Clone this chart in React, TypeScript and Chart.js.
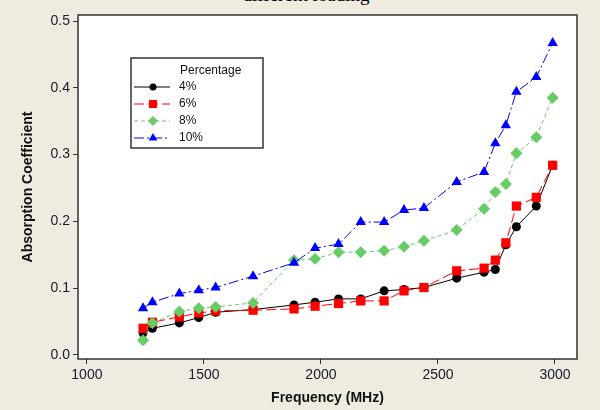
import React, { useEffect, useRef } from "react";
import { Chart, registerables } from "chart.js";

Chart.register(...registerables);

const freqMHz = [1240, 1280, 1395, 1478, 1550, 1710, 1885, 1975, 2075, 2170, 2270, 2355, 2440, 2580, 2697, 2745, 2790, 2835, 2920, 2990];
const pct4 = [0.033, 0.040, 0.048, 0.056, 0.064, 0.068, 0.075, 0.079, 0.084, 0.084, 0.096, 0.098, 0.101, 0.115, 0.124, 0.128, 0.165, 0.192, 0.223, 0.284];
const pct6 = [0.040, 0.049, 0.057, 0.063, 0.066, 0.067, 0.069, 0.073, 0.077, 0.081, 0.081, 0.096, 0.101, 0.126, 0.130, 0.142, 0.168, 0.223, 0.236, 0.284];
const pct8 = [0.022, 0.048, 0.065, 0.070, 0.072, 0.078, 0.142, 0.144, 0.154, 0.154, 0.156, 0.162, 0.171, 0.187, 0.219, 0.244, 0.256, 0.302, 0.326, 0.385];
const pct10 = [0.070, 0.079, 0.092, 0.097, 0.101, 0.118, 0.138, 0.160, 0.166, 0.199, 0.199, 0.217, 0.220, 0.259, 0.274, 0.317, 0.344, 0.394, 0.416, 0.467];

const seriesLabels = ["4%", "6%", "8%", "10%"];
const legendTitle = "Percentage";
const xTickValues = [1000, 1500, 2000, 2500, 3000];
const xTickLabels = ["1000", "1500", "2000", "2500", "3000"];
const yTickValues = [0, 0.1, 0.2, 0.3, 0.4, 0.5];
const yTickLabels = ["0.0", "0.1", "0.2", "0.3", "0.4", "0.5"];
const xTitle = "Frequency (MHz)";
const yTitle = "Absorption Coefficient";
const topTitle = "different loading";

const FONT = "'Liberation Sans', Arial, sans-serif";

function drawMarker(ctx: CanvasRenderingContext2D, style: string, x: number, y: number, r: number, color: string) {
  ctx.save();
  ctx.fillStyle = color;
  ctx.beginPath();
  if (style === "circle") {
    ctx.arc(x, y, r, 0, Math.PI * 2);
  } else if (style === "rect") {
    ctx.rect(x - r, y - r, 2 * r, 2 * r);
  } else if (style === "rectRot") {
    ctx.moveTo(x, y - r);
    ctx.lineTo(x + r, y);
    ctx.lineTo(x, y + r);
    ctx.lineTo(x - r, y);
    ctx.closePath();
  } else if (style === "triangle") {
    const h = r * 1.5;
    const w = r * Math.sqrt(3);
    ctx.moveTo(x, y - h * 2 / 3);
    ctx.lineTo(x + w / 2, y + h / 3);
    ctx.lineTo(x - w / 2, y + h / 3);
    ctx.closePath();
  }
  ctx.fill();
  ctx.restore();
}

const framePlugin = {
  id: "framePlugin",
  beforeDraw(chart: any) {
    const { ctx, chartArea: a } = chart;
    ctx.save();
    ctx.fillStyle = "#ffffff";
    ctx.fillRect(a.left, a.top, a.right - a.left, a.bottom - a.top);
    ctx.restore();
  },
  afterDatasetsDraw(chart: any) {
    const { ctx, chartArea: a } = chart;
    ctx.save();
    ctx.strokeStyle = "#333333";
    ctx.lineWidth = 1.5;
    ctx.strokeRect(a.left, a.top, a.right - a.left, a.bottom - a.top);
    ctx.restore();
  },
};

const legendPlugin = {
  id: "customLegend",
  afterDraw(chart: any) {
    const ctx: CanvasRenderingContext2D = chart.ctx;
    const bx = 131, by = 58, bw = 132, bh = 90;
    ctx.save();
    ctx.fillStyle = "#ffffff";
    ctx.fillRect(bx, by, bw, bh);
    ctx.strokeStyle = "#333333";
    ctx.lineWidth = 1.5;
    ctx.strokeRect(bx, by, bw, bh);
    ctx.fillStyle = "#111111";
    ctx.font = `12px ${FONT}`;
    ctx.textBaseline = "middle";
    ctx.textAlign = "left";
    ctx.fillText(legendTitle, 180, 71);
    const rows = [87, 104, 121, 138];
    chart.data.datasets.forEach((ds: any, i: number) => {
      const y = rows[i];
      ctx.save();
      ctx.strokeStyle = ds.borderColor;
      ctx.lineWidth = 1;
      ctx.setLineDash(ds.borderDash || []);
      ctx.beginPath();
      ctx.moveTo(134, y);
      ctx.lineTo(170, y);
      ctx.stroke();
      ctx.restore();
      const lr = ds.pointStyle === "circle" ? 3.5 : ds.pointStyle === "rect" ? 4 : 5;
      drawMarker(ctx, ds.pointStyle, 153, y, lr, ds.backgroundColor);
      ctx.fillStyle = "#111111";
      ctx.fillText(ds.label, 179, y);
    });
    ctx.restore();
  },
};

export default function App() {
  const canvasRef = useRef<HTMLCanvasElement | null>(null);

  useEffect(() => {
    const canvas = canvasRef.current;
    if (!canvas) return;
    const mk = (vals: number[]) => freqMHz.map((f, i) => ({ x: f, y: vals[i] }));
    const chart = new Chart(canvas, {
      type: "line",
      data: {
        datasets: [
          {
            label: seriesLabels[0], data: mk(pct4), borderColor: "#000000", backgroundColor: "#000000",
            borderWidth: 1, pointStyle: "circle", pointRadius: 4.5, pointBorderWidth: 0, order: 4,
            borderDash: [],
          },
          {
            label: seriesLabels[1], data: mk(pct6), borderColor: "#ff0000", backgroundColor: "#ff0000",
            borderWidth: 1, pointStyle: "rect", pointRadius: 6.5, pointBorderWidth: 0, order: 3,
            borderDash: [10, 4],
          },
          {
            label: seriesLabels[2], data: mk(pct8), borderColor: "#66cc66", backgroundColor: "#66cc66",
            borderWidth: 1, pointStyle: "rectRot", pointRadius: 6, pointBorderWidth: 0, order: 2,
            borderDash: [4, 3],
          },
          {
            label: seriesLabels[3], data: mk(pct10), borderColor: "#0000ff", backgroundColor: "#0000ff",
            borderWidth: 1, pointStyle: "triangle", pointRadius: 6, pointBorderWidth: 0, order: 1,
            borderDash: [10, 3, 2, 3],
          },
        ],
      },
      options: {
        responsive: false,
        animation: false,
        devicePixelRatio: 1,
        layout: { padding: { left: 0, top: 15, right: 23, bottom: 0 } },
        plugins: { legend: { display: false }, tooltip: { enabled: false }, title: { display: false } },
        scales: {
          x: {
            type: "linear",
            min: 962,
            max: 3094,
            afterFit: (s: any) => { s.height = 51; },
            afterBuildTicks: (s: any) => { s.ticks = xTickValues.map((v) => ({ value: v })); },
            ticks: {
              color: "#1a1a2a",
              font: { family: FONT, size: 14 },
              padding: 3,
              maxRotation: 0,
              callback: (v: any) => { const i = xTickValues.indexOf(Number(v)); return i >= 0 ? xTickLabels[i] : ""; },
            },
            grid: { display: true, drawOnChartArea: false, drawTicks: true, tickLength: 5, color: "#333333" },
            border: { display: false },
            title: { display: true, text: xTitle, color: "#111111", font: { family: FONT, size: 14, weight: "bold" }, padding: { top: 0, bottom: 3 } },
          },
          y: {
            type: "linear",
            min: -0.006,
            max: 0.509,
            afterFit: (s: any) => { s.width = 78; },
            afterBuildTicks: (s: any) => { s.ticks = yTickValues.map((v) => ({ value: v })); },
            ticks: {
              color: "#1a1a2a",
              font: { family: FONT, size: 14 },
              padding: 3,
              callback: (v: any) => {
                const i = yTickValues.findIndex((t) => Math.abs(t - Number(v)) < 1e-9);
                return i >= 0 ? yTickLabels[i] : "";
              },
            },
            grid: { display: true, drawOnChartArea: false, drawTicks: true, tickLength: 5, color: "#333333" },
            border: { display: false },
            title: { display: true, text: yTitle, color: "#111111", font: { family: FONT, size: 14, weight: "bold" }, padding: { top: 20, bottom: 0 } },
          },
        },
      } as any,
      plugins: [framePlugin, legendPlugin],
    });
    return () => chart.destroy();
  }, []);

  return (
    <div style={{ position: "fixed", left: 0, top: 0, width: 600, height: 410, background: "#efebe1", overflow: "hidden" }}>
      <div style={{ position: "absolute", left: 6, top: -15, width: 600, textAlign: "center", fontFamily: "'Liberation Serif', serif", fontSize: 19, lineHeight: "19px", color: "#000" }}>
        {topTitle}
      </div>
      <canvas ref={canvasRef} width={600} height={410} style={{ position: "absolute", left: 0, top: 0, display: "block", width: 600, height: 410 }} />
    </div>
  );
}
